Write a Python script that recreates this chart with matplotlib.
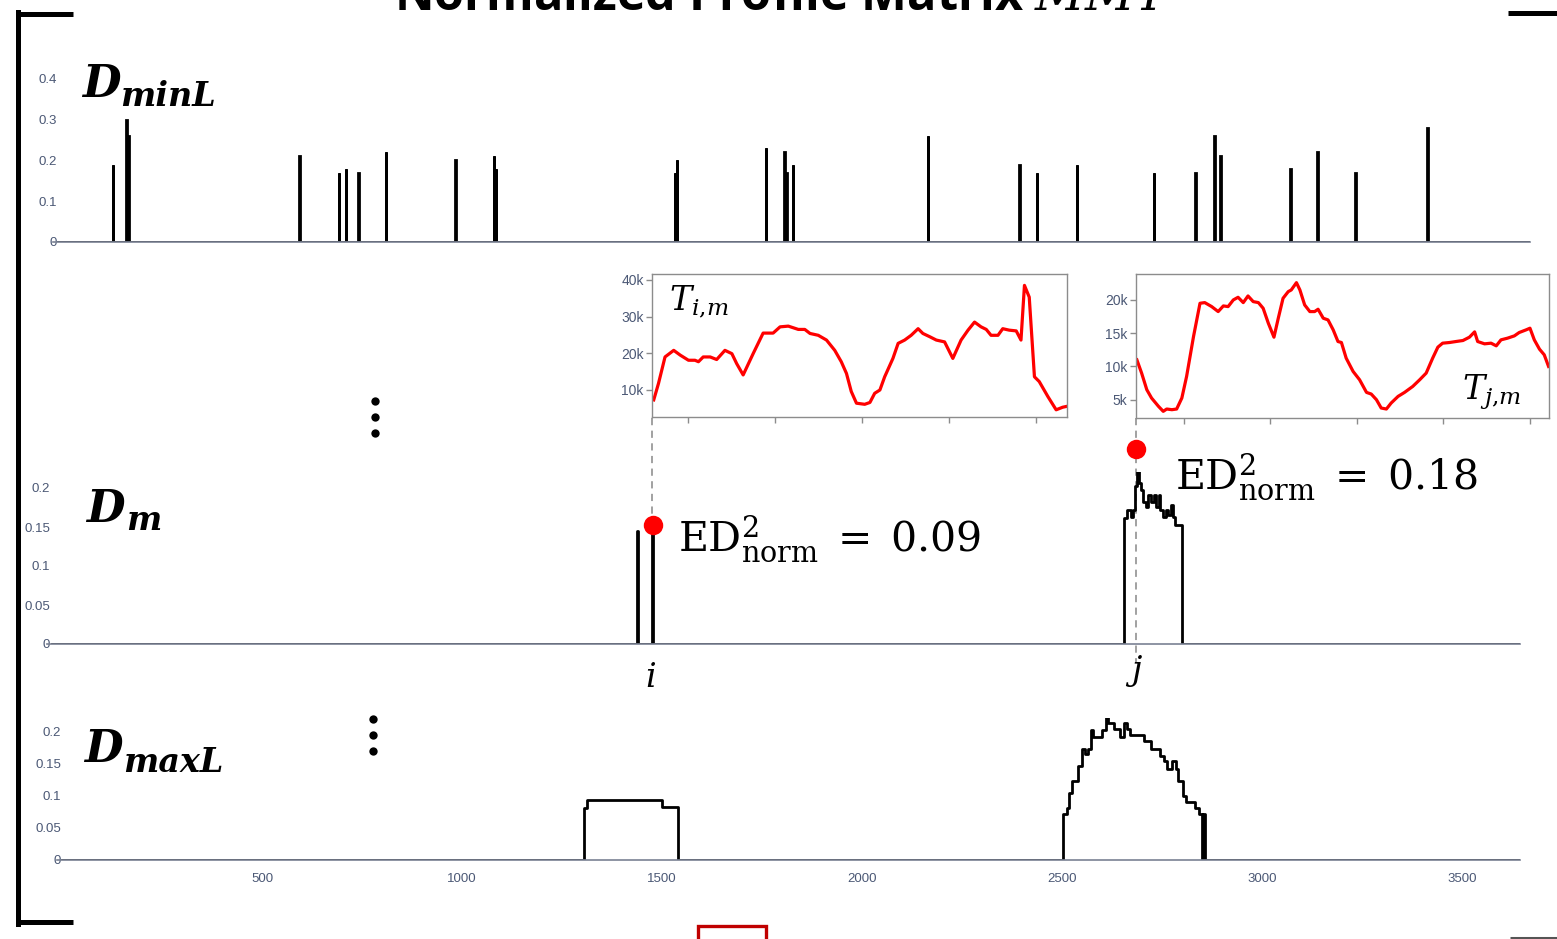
import numpy as np
import matplotlib
matplotlib.use("Agg")
import matplotlib.pyplot as plt
from matplotlib.lines import Line2D
from matplotlib.patches import Rectangle

plt.rcParams["mathtext.fontset"] = "dejavuserif"

# ---------------------------------------------------------------- data
N_INDEX = 3645  # length of the distance profiles

# D_minL : isolated spikes (index, value)
minL_pos = [136, 169, 174, 598, 695, 712, 744, 811, 984, 1079, 1084, 1528, 1532,
            1753, 1798, 1803, 1820, 2154, 2380, 2424, 2523, 2714, 2816, 2863,
            2878, 3051, 3118, 3212, 3391]
minL_val = [0.19, 0.30, 0.26, 0.21, 0.17, 0.18, 0.17, 0.22, 0.20, 0.21, 0.18,
            0.17, 0.20, 0.23, 0.22, 0.17, 0.19, 0.26, 0.19, 0.17, 0.19, 0.17,
            0.17, 0.26, 0.21, 0.18, 0.22, 0.17, 0.28]
spike_width = 1

# D_m : step breakpoints (index where level starts, level)
dm_x = [0, 1452, 1455, 1490, 1493, 2662, 2670, 2680, 2685, 2690, 2695, 2700,
        2705, 2710, 2716, 2722, 2730, 2735, 2740, 2748, 2752, 2758, 2765, 2772,
        2779, 2783, 2788, 2805, 3645]
dm_y = [0, 0.145, 0, 0.152, 0, 0.162, 0.172, 0.163, 0.172, 0.202, 0.223, 0.206,
        0.197, 0.182, 0.176, 0.191, 0.182, 0.191, 0.176, 0.191, 0.172, 0.163,
        0.172, 0.166, 0.178, 0.163, 0.153, 0, 0]

# highlighted positions i and j on D_m
hit_x = [1492, 2692]
hit_y = [0.152, 0.250]
hit_ed = [0.09, 0.18]
hit_name = ["i", "j"]

# D_maxL : step breakpoints
maxL_x = [0, 1305, 1312, 1500, 1541, 2503, 2513, 2518, 2525, 2539, 2550, 2558,
          2566, 2572, 2578, 2600, 2609, 2614, 2630, 2645, 2655, 2663, 2670, 2705,
          2722, 2746, 2755, 2762, 2775, 2784, 2790, 2802, 2810, 2832, 2843, 2850,
          2853, 2858, 3645]
maxL_y = [0, 0.08, 0.093, 0.0825, 0, 0.071, 0.081, 0.104, 0.122, 0.145, 0.172,
          0.165, 0.172, 0.2015, 0.191, 0.2015, 0.222, 0.213, 0.203, 0.19, 0.212,
          0.203, 0.194, 0.184, 0.172, 0.162, 0.153, 0.141, 0.153, 0.141, 0.122,
          0.099, 0.09, 0.081, 0.071, 0, 0.071, 0, 0]

# subsequence T_{i,m}
ti_x = [1492.0, 1493.1, 1494.6, 1496.6, 1498.1, 1500.0, 1501.5, 1502.3, 1503.4,
        1505.0, 1506.5, 1508.4, 1510.0, 1511.1, 1512.6, 1514.9, 1517.2, 1519.5,
        1521.1, 1523.0, 1525.3, 1526.8, 1528.0, 1529.9, 1531.8, 1533.7, 1535.2,
        1536.4, 1537.5, 1538.7, 1540.6, 1541.8, 1542.9, 1544.1, 1545.2, 1547.1,
        1548.3, 1549.8, 1551.3, 1552.9, 1554.0, 1555.6, 1557.1, 1559.0, 1560.9,
        1562.8, 1564.4, 1565.9, 1567.4, 1568.6, 1569.7, 1571.3, 1572.4, 1573.9,
        1575.5, 1576.6, 1577.4, 1578.5, 1579.7, 1580.8, 1582.8, 1584.7, 1586.2,
        1587.0]
ti_v = [7.3, 11.8, 19.0, 20.8, 19.5, 18.1, 18.1, 17.7, 19.0, 19.0, 18.3, 20.8,
        19.9, 17.2, 14.1, 19.9, 25.5, 25.5, 27.2, 27.4, 26.5, 26.5, 25.4, 24.9,
        23.6, 20.8, 17.7, 14.5, 9.6, 6.4, 6.1, 6.6, 9.1, 10.0, 13.6, 18.6, 22.7,
        23.6, 24.9, 26.7, 25.4, 24.5, 23.6, 23.1, 18.6, 23.6, 26.3, 28.5, 27.2,
        26.5, 24.9, 24.9, 26.7, 26.3, 26.1, 23.6, 38.5, 35.3, 13.6, 12.3, 8.2,
        4.6, 5.3, 5.5]

# subsequence T_{j,m}
tj_x = [2689.1, 2690.2, 2691.4, 2692.5, 2694.1, 2695.2, 2696.0, 2697.2, 2698.3,
        2699.5, 2700.6, 2702.2, 2703.7, 2704.8, 2706.4, 2707.9, 2709.1, 2710.2,
        2711.4, 2712.5, 2713.7, 2714.8, 2716.0, 2717.2, 2718.3, 2719.5, 2720.8,
        2721.8, 2722.9, 2724.1, 2724.8, 2726.0, 2726.8, 2727.9, 2729.1, 2730.2,
        2731.0, 2732.2, 2733.3, 2734.5, 2735.6, 2736.4, 2737.5, 2739.1, 2740.6,
        2742.2, 2743.3, 2744.5, 2745.6, 2746.8, 2747.9, 2749.5, 2751.0, 2752.9,
        2754.5, 2756.0, 2757.5, 2758.7, 2759.8, 2761.4, 2762.9, 2764.5, 2766.0,
        2767.2, 2767.9, 2769.5, 2771.0, 2772.2, 2773.3, 2774.8, 2776.4, 2777.5,
        2779.1, 2780.0, 2781.0, 2782.2, 2783.3, 2784.3]
tj_v = [11.0, 9.0, 6.5, 5.25, 4.0, 3.25, 3.6, 3.5, 3.6, 5.25, 8.5, 14.5, 19.5,
        19.6, 19.0, 18.25, 19.1, 19.0, 20.0, 20.4, 19.6, 20.6, 19.75, 19.6, 18.75,
        16.5, 14.4, 17.25, 20.25, 21.25, 21.5, 22.6, 21.5, 19.25, 18.25, 18.25,
        18.6, 17.25, 17.0, 15.5, 13.75, 13.6, 11.25, 9.25, 8.0, 6.1, 5.85, 5.0,
        3.75, 3.6, 4.5, 5.5, 6.1, 7.0, 8.0, 9.0, 11.25, 12.9, 13.5, 13.6, 13.75,
        13.9, 14.4, 15.2, 13.75, 13.4, 13.5, 13.1, 14.0, 14.25, 14.6, 15.1, 15.5,
        15.75, 14.0, 12.6, 11.75, 10.0]

main_yticks = {"minL": [0, 0.1, 0.2, 0.3, 0.4],
               "m": [0, 0.05, 0.1, 0.15, 0.2],
               "maxL": [0, 0.05, 0.1, 0.15, 0.2]}
x_ticks = [500, 1000, 1500, 2000, 2500, 3000, 3500]
ti_ticks = [10000, 20000, 30000, 40000]
tj_ticks = [5000, 10000, 15000, 20000]
inset_xticks_i = [1500, 1520, 1540, 1560, 1580]
inset_xticks_j = [2700, 2720, 2740, 2760, 2780]

# ---------------------------------------------------------------- figure
W, H = 1557, 939
fig = plt.figure(figsize=(W / 100, H / 100), dpi=100)

TICK_COLOR = "#4b5875"
TICK_FONT = ["Liberation Sans Narrow", "Liberation Sans", "DejaVu Sans"]


def fx(px):
    return px / W


def fy(py):
    return 1 - py / H


def axes_px(left, right, top, bottom):
    return fig.add_axes([fx(left), fy(bottom), (right - left) / W, (bottom - top) / H])


def fmt_main(v):
    if v == 0:
        return "0"
    return ("%g" % v)


def style_main(ax, yticks, ylim, ypad, show_x=False):
    ax.set_xlim(-12, N_INDEX)
    ax.set_ylim(*ylim)
    for s in ("top", "right", "left"):
        ax.spines[s].set_visible(False)
    ax.spines["bottom"].set_color("#7a8294")
    ax.spines["bottom"].set_linewidth(1.2)
    ax.set_yticks(yticks)
    ax.set_yticklabels([fmt_main(v) for v in yticks])
    ax.tick_params(axis="y", length=0, pad=ypad, labelsize=9.5, labelcolor=TICK_COLOR)
    if show_x:
        ax.set_xticks(x_ticks)
        ax.set_xticklabels([str(v) for v in x_ticks])
        ax.tick_params(axis="x", length=0, pad=9, labelsize=9.5, labelcolor=TICK_COLOR)
    else:
        ax.set_xticks([])
    for lab in ax.get_yticklabels() + ax.get_xticklabels():
        lab.set_family(TICK_FONT)
    ax.patch.set_alpha(0)


# D_minL panel
ax1 = axes_px(58 - 12 * 0.4038, 1530, 242 - 0.42 * 407.5, 242)
xs, ys = [0], [0]
for p, v in sorted(zip(minL_pos, minL_val)):
    xs += [p, p + spike_width]
    ys += [v, 0]
xs.append(N_INDEX)
ys.append(0)
ax1.step(xs, ys, where="post", color="black", lw=2.0, solid_joinstyle="miter")
style_main(ax1, main_yticks["minL"], (0, 0.42), -3)

# D_m panel
ax2 = axes_px(52 - 12 * 0.4027, 1520, 644 - 0.22 * 780, 644)
ax2.step(dm_x, dm_y, where="post", color="black", lw=2.0)
style_main(ax2, main_yticks["m"], (0, 0.22), -2)
ax2.plot(hit_x, hit_y, "o", color="#ff0000", ms=14, mec="none", clip_on=False, zorder=5)

# D_maxL panel
ax3 = axes_px(62 - 12 * 0.4, 1520, 860 - 0.22 * 645, 860)
ax3.step(maxL_x, maxL_y, where="post", color="black", lw=2.0)
style_main(ax3, main_yticks["maxL"], (0, 0.22), -3, show_x=True)


def style_inset(ax, xticks, yticks, xlim, ylim):
    ax.set_xlim(*xlim)
    ax.set_ylim(*ylim)
    for s in ax.spines.values():
        s.set_color("#8c8c8c")
        s.set_linewidth(1.0)
    ax.set_xticks(xticks)
    ax.set_xticklabels([])
    ax.set_yticks(yticks)
    ax.set_yticklabels(["%dk" % (v // 1000) for v in yticks])
    ax.tick_params(length=4, width=1, color="#8c8c8c", labelsize=10,
                   labelcolor=TICK_COLOR, pad=2)
    for lab in ax.get_yticklabels():
        lab.set_family(TICK_FONT)


# inset T_{i,m}
axi = axes_px(652, 1067, 274, 417)
axi.plot(ti_x, [v * 1000 for v in ti_v], color="#ff0000", lw=2.3, solid_joinstyle="round")
style_inset(axi, inset_xticks_i, ti_ticks, (1491.6, 1587.2), (2640, 41600))
axi.text(0.04, 0.93, r"$T_{i{,}m}$", transform=axi.transAxes, fontsize=24,
         ha="left", va="top")

# inset T_{j,m}
axj = axes_px(1136, 1549, 274, 418)
axj.plot(tj_x, [v * 1000 for v in tj_v], color="#ff0000", lw=2.3, solid_joinstyle="round")
style_inset(axj, inset_xticks_j, tj_ticks, (2688.9, 2784.4), (2250, 23900))
axj.text(0.79, 0.13, r"$T_{j{,}m}$", transform=axj.transAxes, fontsize=24,
         ha="left", va="baseline")

# dashed connectors from the subsequences down to D_m (kept beneath the dots)
for x0, y0, y1 in [(652, 418, 527), (1136, 418, 662)]:
    fig.add_artist(Line2D([fx(x0), fx(x0)], [fy(y0), fy(y1)], color="#9a9a9a",
                          lw=1.3, ls=(0, (4, 3)), zorder=-1))

# ED^2_norm annotations
for (px, py), ed in zip([(678, 551), (1175, 489)], hit_ed):
    fig.text(fx(px), fy(py), r"$\mathrm{ED}^{2}_{\mathrm{norm}}\;=\;%.2f$" % ed,
             fontsize=29.5, ha="left", va="baseline")

# i / j position labels
for (px, py), name in zip([(651, 687), (1134, 680)], hit_name):
    fig.text(fx(px), fy(py), r"$%s$" % name, fontsize=24, ha="center", va="baseline")

# panel names
SERIF_BI = dict(family="DejaVu Serif", weight="bold", style="italic")
for (dx, dy, sx, sy), sub in zip([(82, 97, 120, 106), (86, 522, 126, 530),
                                  (84, 762, 123, 772)], ["minL", "m", "maxL"]):
    fig.text(fx(dx), fy(dy), "D", fontsize=32, ha="left", va="baseline", **SERIF_BI)
    fig.text(fx(sx), fy(sy), sub, fontsize=24, ha="left", va="baseline", **SERIF_BI)

# vertical ellipses
for cx, cys in [(375, [401, 417, 433]), (373, [719, 735, 751])]:
    fig.add_artist(Line2D([fx(cx)] * 3, [fy(c) for c in cys], ls="none", marker="o",
                          ms=6, color="black", mec="none"))

# title (only its lower part falls on the canvas)
fig.text(fx(783), fy(10), r"Normalized Profile Matrix $MMT$", fontsize=35,
         family="Open Sans", weight="bold", ha="center", va="baseline")

# bracket frame
lw_frame = 3.6
fig.add_artist(Line2D([fx(18), fx(18)], [fy(12), fy(924)], color="black", lw=lw_frame))
fig.add_artist(Line2D([fx(16), fx(73)], [fy(14), fy(14)], color="black", lw=lw_frame,
                      solid_capstyle="butt"))
fig.add_artist(Line2D([fx(16), fx(73)], [fy(922), fy(922)], color="black", lw=lw_frame,
                      solid_capstyle="butt"))
fig.add_artist(Line2D([fx(1508), fx(1557)], [fy(13), fy(13)], color="black", lw=lw_frame,
                      solid_capstyle="butt"))
fig.add_artist(Line2D([fx(1510), fx(1557)], [fy(938), fy(938)], color="#555555", lw=2.2,
                      solid_capstyle="butt"))
fig.add_artist(Rectangle((fx(698), fy(950)), (766 - 698) / W, (950 - 926) / H,
                         transform=fig.transFigure, fill=False, edgecolor="#c00000",
                         lw=2.4))

fig.savefig("out.png", dpi=100)
